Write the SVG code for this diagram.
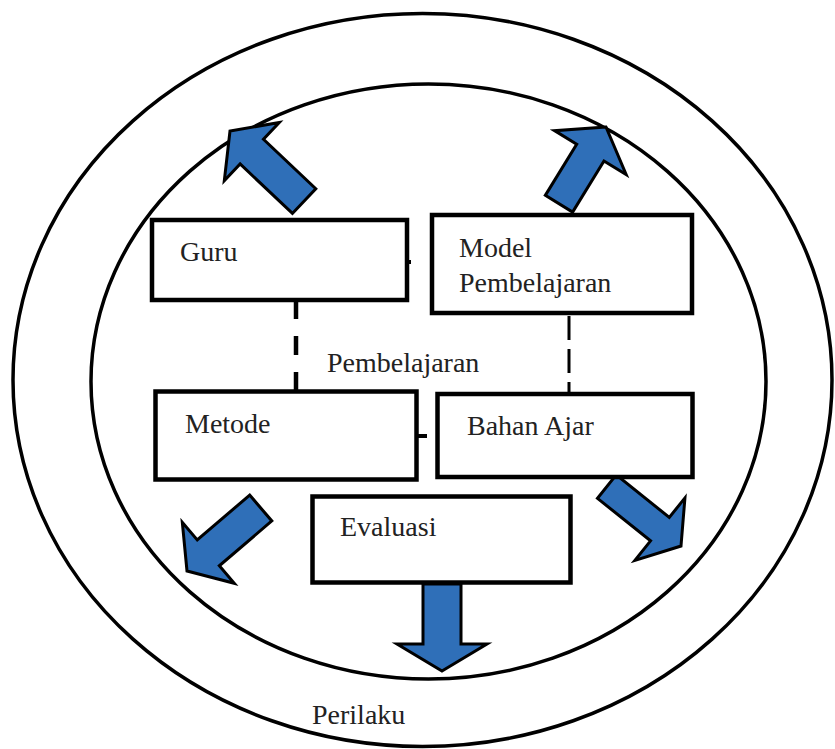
<svg xmlns="http://www.w3.org/2000/svg" width="835" height="749" viewBox="0 0 835 749">
<style>
.ring{fill:none;stroke:#000;stroke-width:3.5}
.box{fill:#fff;stroke:#000;stroke-width:4.5}
.lbl{font-family:"Liberation Serif","Times New Roman",serif;font-size:28px;fill:#222}
.arw{fill:#2f6fb8;stroke:#000;stroke-width:3;stroke-linejoin:miter}
.dash{stroke:#000;fill:none}
</style>
<rect width="835" height="749" fill="#fff"/>
<ellipse class="ring" cx="422.5" cy="380" rx="409.5" ry="366.5"/>
<ellipse class="ring" cx="428.5" cy="381.5" rx="337.5" ry="297.5"/>
<g id="connectors">
<line class="dash" x1="296" y1="300" x2="296" y2="392" stroke-width="4.5" stroke-dasharray="19,17"/>
<line class="dash" x1="569" y1="316" x2="569" y2="400" stroke-width="3" stroke-dasharray="24,9"/>
<line class="dash" x1="407" y1="262" x2="411" y2="262" stroke-width="4"/>
<line class="dash" x1="416" y1="436" x2="427" y2="436" stroke-width="4"/>
<polygon class="arw" transform="translate(230,131) rotate(-136.6)" points="0,0 -30,-40 -30,-17 -102,-17 -102,17 -30,17 -30,40"/>
<polygon class="arw" transform="translate(606,127) rotate(-58.5)" points="0,0 -30,-42 -30,-16 -90,-16 -90,16 -30,16 -30,42"/>
<polygon class="arw" transform="translate(187,571) rotate(139.5)" points="0,0 -28,-40 -28,-17 -97,-17 -97,17 -28,17 -28,40"/>
<polygon class="arw" transform="translate(681,546) rotate(38.7)" points="0,0 -27,-40 -27,-15 -95,-15 -95,15 -27,15 -27,40"/>
<polygon class="arw" transform="translate(442,671) rotate(90)" points="0,0 -27,-45 -27,-19 -87,-19 -87,19 -27,19 -27,45"/>
</g>
<g id="guru">
<rect class="box" x="152" y="220" width="255" height="80"/>
<text class="lbl" x="180" y="261">Guru</text>
</g>
<g id="model">
<rect class="box" x="432" y="215" width="260" height="98"/>
<text class="lbl" x="459" y="257">Model</text>
<text class="lbl" x="459" y="292">Pembelajaran</text>
</g>
<g id="pembelajaran">
<text class="lbl" x="327" y="372">Pembelajaran</text>
</g>
<g id="metode">
<rect class="box" x="155.5" y="391.5" width="261" height="88"/>
<text class="lbl" x="185" y="433">Metode</text>
</g>
<g id="bahan">
<rect class="box" x="437.5" y="394" width="255" height="83"/>
<text class="lbl" x="467" y="435">Bahan Ajar</text>
</g>
<g id="evaluasi">
<rect class="box" x="312.5" y="496.5" width="258" height="86"/>
<text class="lbl" x="340" y="536">Evaluasi</text>
</g>
<g id="perilaku">
<text class="lbl" x="312" y="724">Perilaku</text>
</g>
</svg>
